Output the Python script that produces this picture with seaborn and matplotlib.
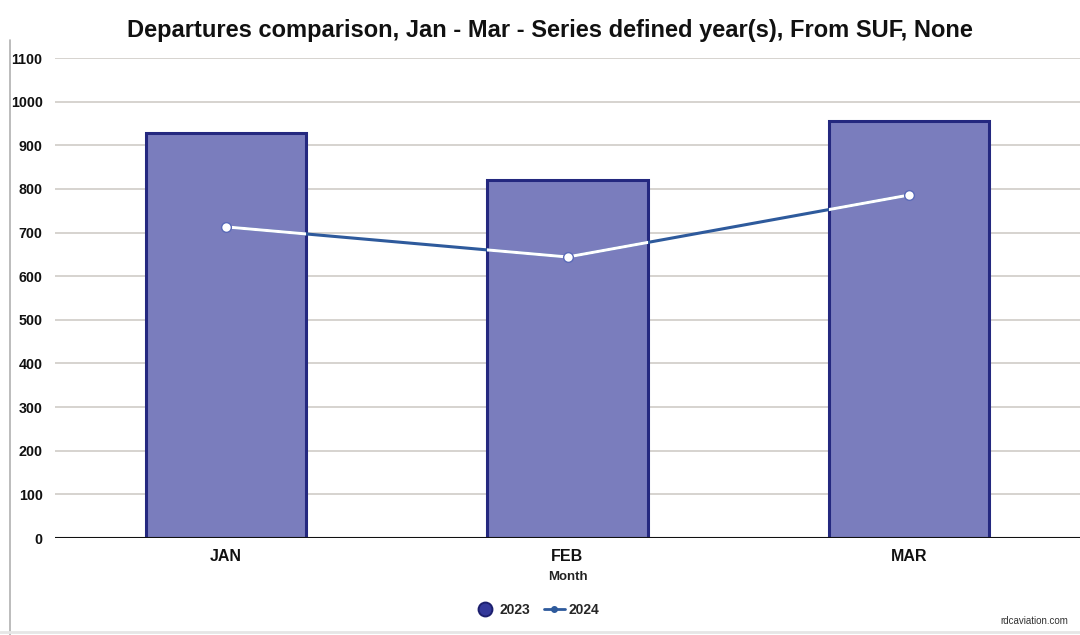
import matplotlib
matplotlib.use("Agg")
import matplotlib.pyplot as plt
import seaborn as sns
import pandas as pd
from matplotlib.lines import Line2D

months = ["JAN", "FEB", "MAR"]
dep_2023 = [928, 820, 955]
dep_2024 = [713, 644, 786]
y_ticks = [0, 100, 200, 300, 400, 500, 600, 700, 800, 900, 1000, 1100]

sns.set_theme(style="white")
plt.rcParams["font.family"] = ["Liberation Sans", "DejaVu Sans"]

BAR_FILL = "#7a7dbd"
BAR_EDGE = "#24287f"
LINE_BLUE = "#2e5a9c"

fig = plt.figure(figsize=(10.8, 6.35), dpi=100)
ax = fig.add_axes([55 / 1080, 1 - 538 / 635, 1 - 55 / 1080, (538 - 58) / 635])

df = pd.DataFrame({"Month": months, "2023": dep_2023, "2024": dep_2024})

sns.barplot(data=df, x="Month", y="2023", ax=ax, color=BAR_FILL, width=0.47,
            edgecolor=BAR_EDGE, linewidth=2.2, saturation=1, zorder=2)
bars = list(ax.patches)

n_before = len(ax.lines)
sns.lineplot(data=df, x="Month", y="2024", ax=ax, color=LINE_BLUE, linewidth=2.2,
             zorder=3, sort=False)
blue_line = ax.lines[n_before]
xd, yd = blue_line.get_xdata(), blue_line.get_ydata()
# white part of the line where it crosses the bars
for b in bars:
    wl, = ax.plot(xd, yd, color="white", linewidth=2.2, zorder=4)
    wl.set_clip_path(b)
ax.plot(xd, yd, linestyle="none", marker="o", markersize=7,
        markerfacecolor="white", markeredgecolor="#5a6ab8", markeredgewidth=1.0, zorder=5)

ax.set_ylim(0, 1100)
ax.set_xlim(-0.5, 2.5)
ax.set_yticks(y_ticks)
ax.set_yticklabels([str(t) for t in y_ticks], fontsize=10.3, fontweight="bold", color="#111111")
ax.tick_params(axis="x", labelsize=11.5, pad=8, length=0)
for lbl in ax.get_xticklabels():
    lbl.set_fontweight("bold")
    lbl.set_color("#111111")
ax.tick_params(axis="y", length=0, pad=9)
ax.yaxis.grid(True, color="#d6d3cf", linewidth=1.4, zorder=0)
ax.set_axisbelow(True)
for s in ax.spines.values():
    s.set_visible(False)
ax.axhline(0, color="#111111", linewidth=1.5, zorder=6)

ax.set_xlabel("Month", fontsize=9.5, fontweight="bold", color="#222222", labelpad=5)
ax.set_ylabel("")

fig.text(550 / 1080, 1 - 31 / 635,
         "Departures comparison, Jan - Mar - Series defined year(s), From SUF, None",
         ha="center", va="center", fontsize=17, fontweight="bold", color="#111111")

handles = [
    Line2D([], [], linestyle="none", marker="o", markersize=10,
           markerfacecolor="#33389a", markeredgecolor="#1c1f6e", markeredgewidth=1.4),
    Line2D([], [], color=LINE_BLUE, linewidth=2, marker="o", markersize=4,
           markerfacecolor=LINE_BLUE, markeredgecolor=LINE_BLUE),
]
fig.legend(handles, ["2023", "2024"], loc="center", bbox_to_anchor=(537 / 1080, 1 - 610 / 635),
           ncol=2, frameon=False, prop={"weight": "bold", "size": 10},
           handlelength=1.5, handletextpad=0.3, columnspacing=1.0)

fig.add_artist(Line2D([10 / 1080, 10 / 1080], [0, 1 - 40 / 635], color="#b0b0b0",
                      linewidth=1.2, transform=fig.transFigure))
fig.add_artist(Line2D([0, 1], [1 - 632 / 635, 1 - 632 / 635], color="#e6e6e6",
                      linewidth=2, transform=fig.transFigure))
fig.text(1000 / 1080, 1 - 621 / 635, "rdcaviation.com", ha="left", va="center",
         fontsize=7, color="#333333")

fig.savefig("out.png", dpi=100)
